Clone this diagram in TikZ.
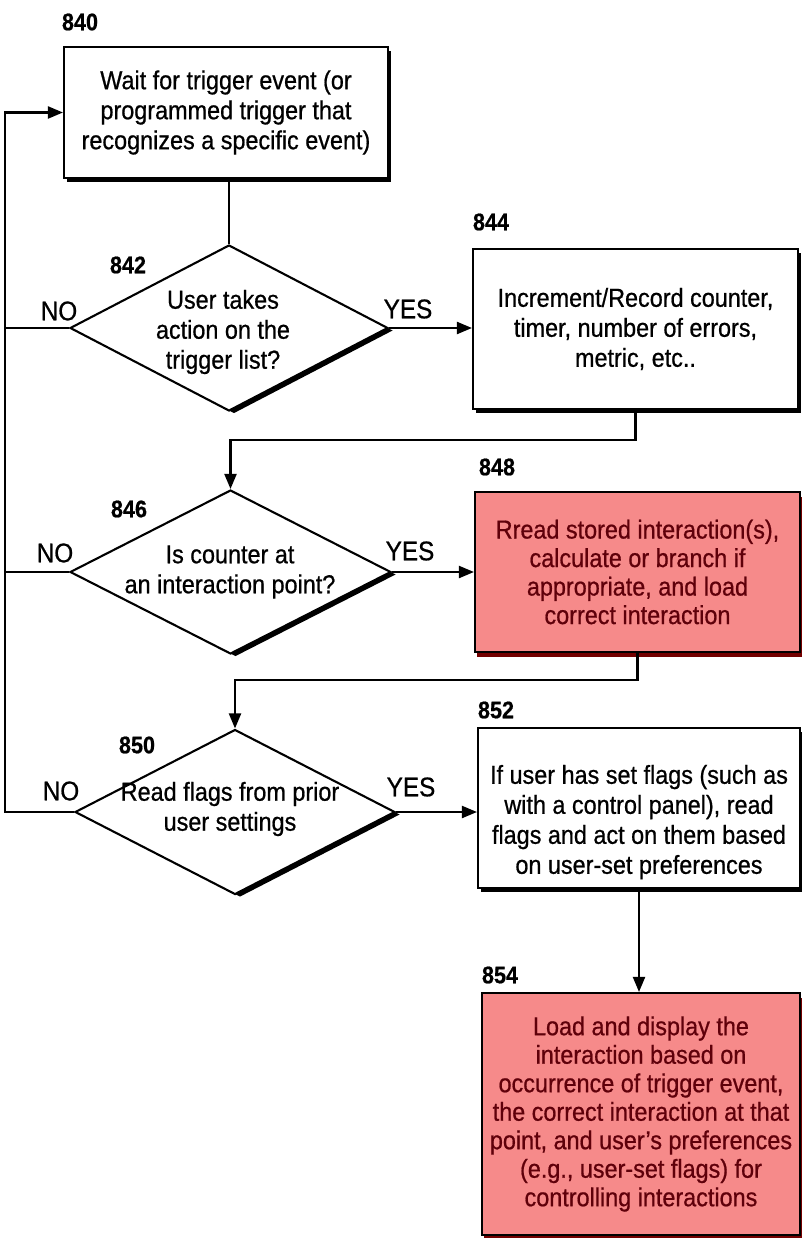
\documentclass[tikz,border=0pt]{standalone}
\usepackage{fontspec}
\setmainfont{Liberation Sans}[FakeStretch=0.9, FakeBold=0.7]
\usetikzlibrary{shapes.geometric,arrows.meta,shadows}

\definecolor{hotfill}{RGB}{246,138,138}
\definecolor{hottext}{RGB}{95,0,10}
\definecolor{hotshadow}{RGB}{115,0,0}

\newcommand{\bodyfont}{\fontsize{26}{30}\selectfont}
\newcommand{\hotfont}{\fontsize{26}{28.5}\selectfont}
\newcommand{\refnumfont}{\fontsize{24}{26}\selectfont\bfseries}
\newcommand{\answerfont}{\fontsize{27}{29}\selectfont}

\tikzset{
  flow/.style={line width=2.1pt, draw=black},
  arrow/.style={flow, -{Triangle[length=15pt,width=12pt]}},
  proc/.style={draw=black, line width=2.1pt, rectangle, fill=white,
    align=center, font=\bodyfont, inner sep=0pt,
    drop shadow={shadow xshift=2.5pt, shadow yshift=-4pt, opacity=1, fill=black}},
  hot/.style={draw=black, line width=2.1pt, rectangle, fill=hotfill,
    text=hottext, align=center, font=\hotfont, inner sep=0pt,
    drop shadow={shadow xshift=1.5pt, shadow yshift=-5pt, opacity=1, fill=hotshadow}},
  decision/.style={draw=black, line width=2.1pt, diamond, fill=white, inner sep=0pt,
    drop shadow={shadow xshift=5pt, shadow yshift=-2.5pt, opacity=1, fill=black}},
  qtext/.style={align=center, font=\bodyfont, inner sep=0pt},
  refnum/.style={font=\refnumfont, inner sep=0pt},
  answer/.style={font=\answerfont, inner sep=0pt},
}

\begin{document}
\begin{tikzpicture}[x=1pt,y=-1pt]
\useasboundingbox (0,0) rectangle (802,1238);
\fill[white] (0,0) rectangle (802,1238);

% steps and decisions
\node[proc, minimum width=324pt, minimum height=131pt] (b840) at (226,112.5)
  {Wait for trigger event (or\\programmed trigger that\\recognizes a specific event)};

\node[decision, minimum width=318pt, minimum height=166pt] (d842) at (229,328) {};
\node[qtext] (q842) at (223,332) {User takes\\action on the\\trigger list?};

\node[proc, minimum width=325pt, minimum height=160pt] (b844) at (635.5,329)
  {Increment/Record counter,\\timer, number of errors,\\metric, etc..};

\node[decision, minimum width=321pt, minimum height=164pt] (d846) at (230.5,572) {};
\node[qtext] (q846) at (230,572) {Is counter at\\an interaction point?};

\node[hot, minimum width=325pt, minimum height=160pt] (b848) at (637.5,572)
  {Rread stored interaction(s),\\calculate or branch if\\appropriate, and load\\correct interaction};

\node[decision, minimum width=320pt, minimum height=165pt] (d850) at (235,812) {};
\node[qtext] (q850) at (230,809) {Read flags from prior\\user settings};

\node[proc, minimum width=322pt, minimum height=160pt] (b852) at (639,808)
  {\rule{0pt}{47pt}If user has set flags (such as\\with a control panel), read\\flags and act on them based\\on user-set preferences};

\node[hot, minimum width=318pt, minimum height=242pt] (b854) at (641,1114)
  {Load and display the\\interaction based on\\occurrence of trigger event,\\the correct interaction at that\\point, and user's preferences\\(e.g., user-set flags) for\\controlling interactions};

% reference numerals
\node[refnum] (n840) at (80,22) {840};
\node[refnum] (n842) at (128,265) {842};
\node[refnum] (n844) at (491,222) {844};
\node[refnum] (n846) at (129,509) {846};
\node[refnum] (n848) at (497,467) {848};
\node[refnum] (n850) at (137,745) {850};
\node[refnum] (n852) at (496,710) {852};
\node[refnum] (n854) at (500,975) {854};

% branch labels
\node[answer] (no842) at (59,311) {NO};
\node[answer] (yes842) at (408,309) {YES};
\node[answer] (no846) at (55,553) {NO};
\node[answer] (yes846) at (410,551) {YES};
\node[answer] (no850) at (61,791) {NO};
\node[answer] (yes850) at (411,787) {YES};

% routing points
\coordinate (lx) at (5,0);
\coordinate (j1) at (0,440);
\coordinate (j2) at (0,680);

% connectors
\draw[flow] (d842.north |- b840.south) -- (d842.north);
\draw[arrow] (d842.east) -- (d842.east -| b844.west);
\draw[arrow] (b844.south) -- (b844.south |- j1) -- (d846.north |- j1) -- (d846.north);
\draw[arrow] (d846.east) -- (d846.east -| b848.west);
\draw[arrow] (b848.south) -- (b848.south |- j2) -- (d850.north |- j2) -- (d850.north);
\draw[arrow] (d850.east) -- (d850.east -| b852.west);
\draw[arrow] (b852.south) -- (b852.south |- b854.north);

% NO branches back to the waiting step
\draw[flow] (d842.west) -- (d842.west -| lx);
\draw[flow] (d846.west) -- (d846.west -| lx);
\draw[arrow] (d850.west) -- (d850.west -| lx) -- (lx |- b840.west) -- (b840.west);
\end{tikzpicture}
\end{document}
